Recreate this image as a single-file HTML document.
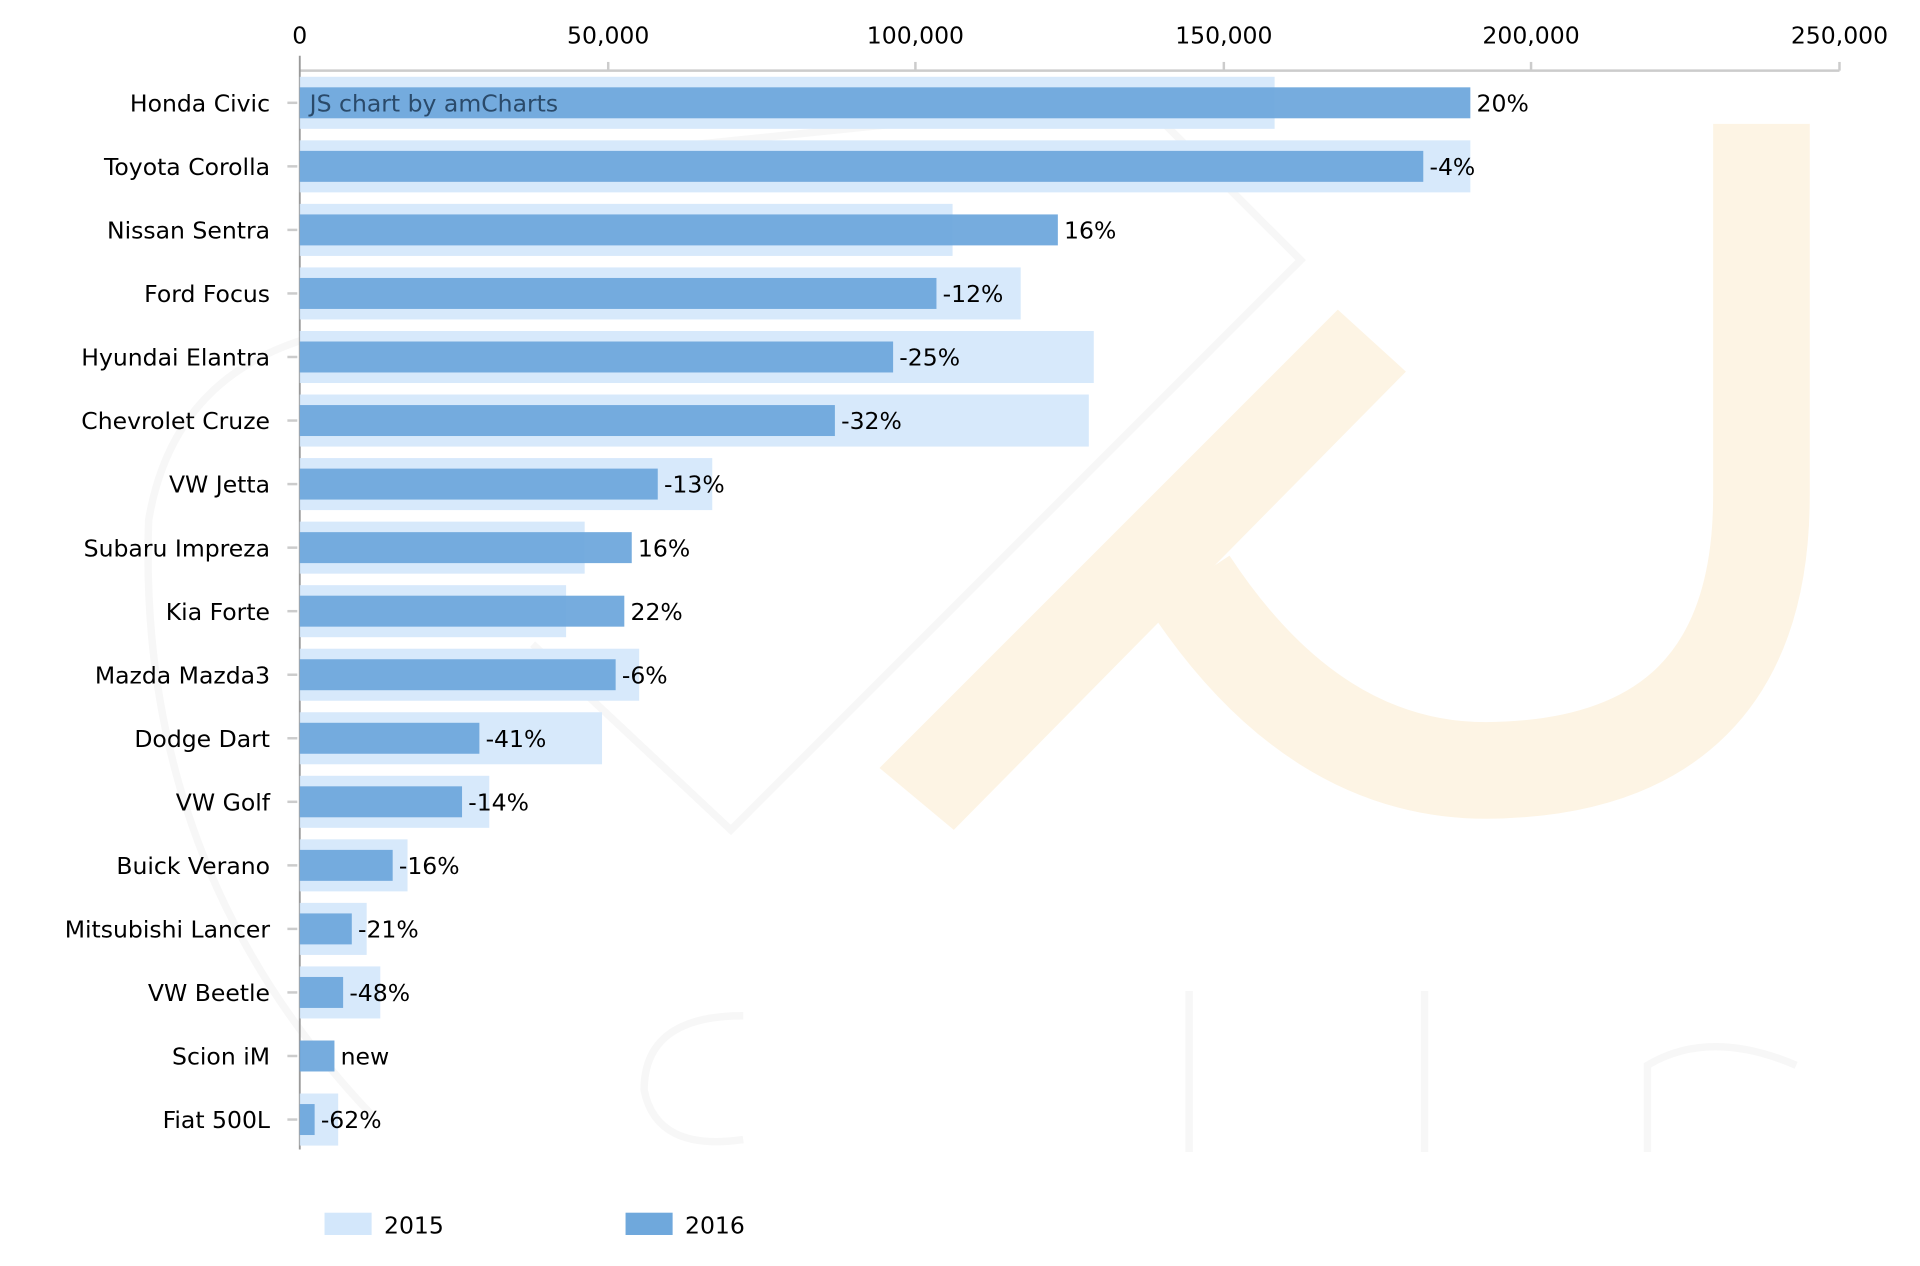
<!DOCTYPE html>
<html><head><meta charset="utf-8"><style>html,body{margin:0;padding:0;background:#fff;overflow:hidden}</style></head>
<body>
<svg width="1920" height="1261" viewBox="0 0 1550 1018" preserveAspectRatio="none" xmlns="http://www.w3.org/2000/svg" font-family="DejaVu Sans, Verdana, sans-serif" font-size="19" fill="#000">
<rect x="0" y="0" width="1550" height="1018" fill="#fff"/>
<!-- watermark -->
<g fill="none" stroke="#fdf4e4" stroke-width="78">
<path d="M1422 100 V400 Q1422 620 1200 622 Q1060 622 960 470"/>
</g>
<path d="M1080 250 L1135 300 L770 670 L710 620 Z" fill="#fdf4e4"/>
<g fill="none" stroke="#f7f7f7" stroke-width="6">
<path d="M430 130 L920 80 L1050 210 L590 670 L430 520"/>
<path d="M260 270 Q140 300 120 420 Q110 700 300 900"/>
<path d="M600 820 Q520 820 520 880 Q530 930 600 920"/>
<path d="M960 800 V930 M1150 800 V930 M1330 930 V860 Q1380 830 1450 860"/>
</g>
<!-- axis -->
<g stroke="#ccc" stroke-width="2">
<line x1="242" y1="57" x2="1485" y2="57"/>
<line x1="491" y1="50" x2="491" y2="57"/><line x1="739" y1="50" x2="739" y2="57"/>
<line x1="988" y1="50" x2="988" y2="57"/><line x1="1236" y1="50" x2="1236" y2="57"/><line x1="1485" y1="50" x2="1485" y2="57"/>
</g>
<line x1="242" y1="45" x2="242" y2="928" stroke="#999" stroke-width="1.5"/>
<g text-anchor="middle" fill="#000">
<text x="242" y="35">0</text><text x="491" y="35">50,000</text><text x="739" y="35">100,000</text>
<text x="988" y="35">150,000</text><text x="1236" y="35">200,000</text><text x="1485" y="35">250,000</text>
</g>
<g id="bars"></g>
<g id="labels" text-anchor="end"></g>
<!-- legend -->
<rect x="262" y="979" width="38" height="18" fill="#d3e7fb"/>
<text x="310" y="996">2015</text>
<rect x="505" y="979" width="38" height="18" fill="#6fa8dc"/>
<text x="553" y="996">2016</text>
<script>
var d=[["Honda Civic",1029,1187,"20%"],["Toyota Corolla",1187,1149,"-4%"],["Nissan Sentra",769,854,"16%"],["Ford Focus",824,756,"-12%"],["Hyundai Elantra",883,721,"-25%"],["Chevrolet Cruze",879,674,"-32%"],["VW Jetta",575,531,"-13%"],["Subaru Impreza",472,510,"16%"],["Kia Forte",457,504,"22%"],["Mazda Mazda3",516,497,"-6%"],["Dodge Dart",486,387,"-41%"],["VW Golf",395,373,"-14%"],["Buick Verano",329,317,"-16%"],["Mitsubishi Lancer",296,284,"-21%"],["VW Beetle",307,277,"-48%"],["Scion iM",242,270,"new"],["Fiat 500L",273,254,"-62%"]];
var ns="http://www.w3.org/2000/svg",b=document.getElementById("bars"),l=document.getElementById("labels");
function el(t,a,p){var e=document.createElementNS(ns,t);for(var k in a)e.setAttribute(k,a[k]);p.appendChild(e);return e;}
d.forEach(function(r,i){var cy=83+i*51.3;
if(r[1]>242)el("rect",{x:242,y:cy-21,width:r[1]-242,height:42,fill:"#d3e7fb",opacity:0.9},b);
el("rect",{x:242,y:cy-12.5,width:r[2]-242,height:25,fill:"#6fa8dc",opacity:0.95},b);
var t=el("text",{x:r[2]+5,y:cy+7},b);t.textContent=r[3];
var n=el("text",{x:218,y:cy+7},l);n.textContent=r[0];
el("line",{x1:232,y1:cy,x2:240,y2:cy,stroke:"#ccc","stroke-width":2},l);
});
var t=el("text",{x:250,y:90,fill:"#2a4a6a"},b);t.textContent="JS chart by amCharts";
</script>
</svg>
</body></html>
